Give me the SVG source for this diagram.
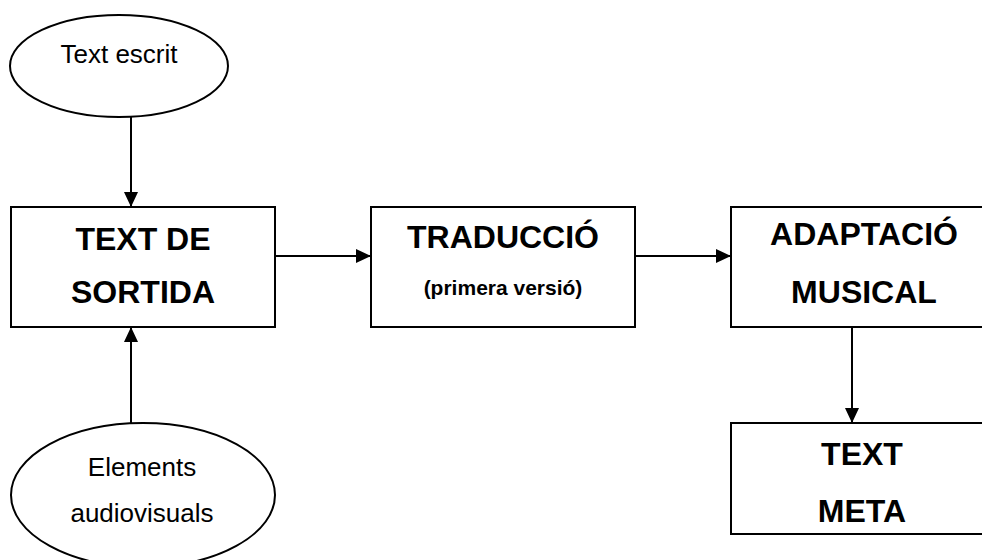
<svg xmlns="http://www.w3.org/2000/svg" width="982" height="560" viewBox="0 0 982 560">
<style>
.shape{fill:#fff;stroke:#000;stroke-width:2}
.conn{stroke:#000;stroke-width:2;fill:none}
.t{font-family:"Liberation Sans",Arial,sans-serif;text-anchor:middle;fill:#000}
.n{font-size:26px}
.b{font-size:32px;font-weight:bold}
.s{font-size:21px;font-weight:bold}
</style>
<defs>
<marker id="ah" markerWidth="16" markerHeight="14" refX="15" refY="7" orient="auto" markerUnits="userSpaceOnUse">
<path d="M0,0 L15,7 L0,14 Z" fill="#000"/>
</marker>
</defs>
<rect width="982" height="560" fill="#fff"/>
<g id="connectors">
<line class="conn" x1="131" y1="117" x2="131" y2="207" marker-end="url(#ah)"/>
<line class="conn" x1="131" y1="423" x2="131" y2="327" marker-end="url(#ah)"/>
<line class="conn" x1="275" y1="256" x2="371" y2="256" marker-end="url(#ah)"/>
<line class="conn" x1="635" y1="256" x2="731" y2="256" marker-end="url(#ah)"/>
<line class="conn" x1="852" y1="327" x2="852" y2="423" marker-end="url(#ah)"/>
</g>
<g id="text-escrit">
<ellipse class="shape" cx="119" cy="66" rx="109" ry="51"/>
<text class="t n" x="119" y="63">Text escrit</text>
</g>
<g id="elements-audiovisuals">
<ellipse class="shape" cx="143" cy="495" rx="132" ry="72"/>
<text class="t n" x="142" y="476">Elements</text>
<text class="t n" x="142" y="522">audiovisuals</text>
</g>
<g id="text-de-sortida">
<rect class="shape" x="11" y="207" width="264" height="120"/>
<text class="t b" x="143" y="250">TEXT DE</text>
<text class="t b" x="143" y="303">SORTIDA</text>
</g>
<g id="traduccio">
<rect class="shape" x="371" y="207" width="264" height="120"/>
<text class="t b" x="503" y="248">TRADUCCIÓ</text>
<text class="t s" x="503" y="295">(primera versió)</text>
</g>
<g id="adaptacio-musical">
<rect class="shape" x="731" y="207" width="264" height="120"/>
<text class="t b" x="864" y="245">ADAPTACIÓ</text>
<text class="t b" x="864" y="303">MUSICAL</text>
</g>
<g id="text-meta">
<rect class="shape" x="731" y="423" width="264" height="111"/>
<text class="t b" x="862" y="465">TEXT</text>
<text class="t b" x="862" y="522">META</text>
</g>
</svg>
